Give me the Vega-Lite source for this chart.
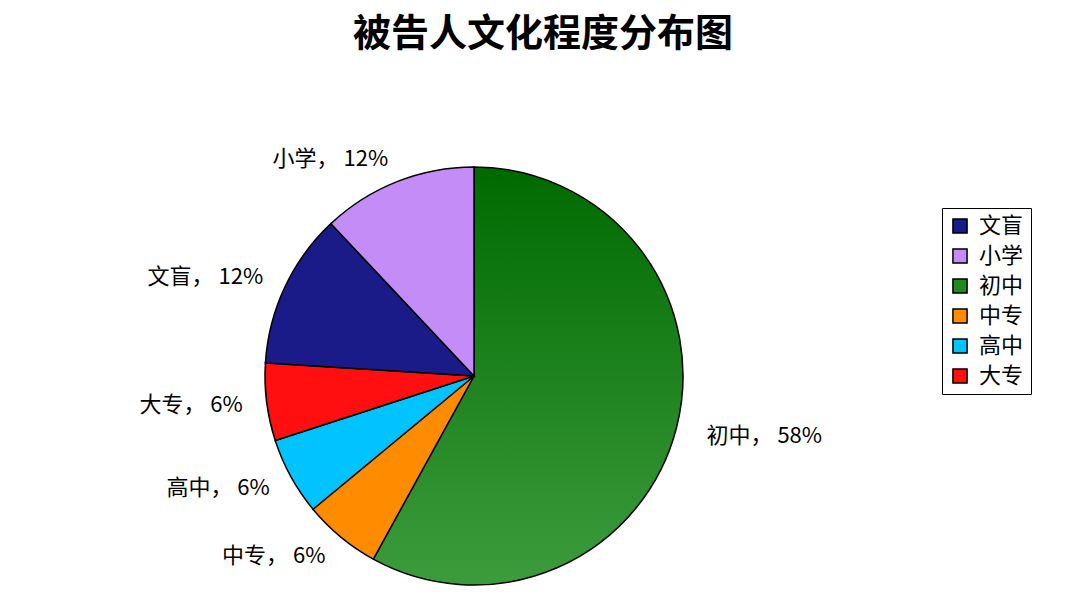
{
  "$schema": "https://vega.github.io/schema/vega-lite/v6.json",
  "autosize": {"type": "none"},
  "width": 948,
  "height": 448,
  "padding": {"left": 0, "top": 152, "right": 132, "bottom": 0},
  "background": "white",
  "config": {
    "font": "Noto Sans CJK SC",
    "view": {"stroke": null}
  },
  "title": {
    "text": "被告人文化程度分布图",
    "fontSize": 38,
    "fontWeight": "bold",
    "color": "black",
    "anchor": "middle",
    "dx": 69,
    "offset": 88
  },
  "data": {
    "values": [
      {"edu": "初中", "pct": 58, "seq": 1, "label": "初中，  58%"},
      {"edu": "中专", "pct": 6, "seq": 2, "label": "中专，  6%"},
      {"edu": "高中", "pct": 6, "seq": 3, "label": "高中，  6%"},
      {"edu": "大专", "pct": 6, "seq": 4, "label": "大专，  6%"},
      {"edu": "文盲", "pct": 12, "seq": 5, "label": "文盲，  12%"},
      {"edu": "小学", "pct": 12, "seq": 6, "label": "小学，  12%"}
    ]
  },
  "encoding": {
    "theta": {"field": "pct", "type": "quantitative", "stack": true},
    "order": {"field": "seq", "type": "ordinal"}
  },
  "layer": [
    {
      "mark": {"type": "arc", "outerRadius": 209, "stroke": "black", "strokeWidth": 1.5},
      "encoding": {
        "color": {
          "condition": {
            "test": "datum.edu === '初中'",
            "value": {
              "gradient": "linear",
              "x1": 0, "y1": 0, "x2": 0, "y2": 1,
              "stops": [
                {"offset": 0, "color": "#006a00"},
                {"offset": 1, "color": "#3c9c3c"}
              ]
            }
          },
          "field": "edu",
          "type": "nominal",
          "scale": {
            "domain": ["文盲", "小学", "初中", "中专", "高中", "大专"],
            "range": ["#1a1a88", "#c48cf6", "#1f8a1f", "#ff8c00", "#00c3ff", "#ff0f0f"]
          },
          "legend": {
            "title": null,
            "orient": "none",
            "legendX": 942,
            "legendY": 56,
            "strokeColor": "black",
            "padding": 7,
            "symbolType": "square",
            "symbolSize": 200,
            "symbolStrokeColor": "black",
            "symbolStrokeWidth": 1.5,
            "symbolOpacity": 1,
            "labelFontSize": 22,
            "labelColor": "black",
            "labelOffset": 8,
            "rowPadding": 8
          }
        }
      }
    },
    {
      "mark": {"type": "text", "radius": 240, "align": "left", "baseline": "middle", "fontSize": 22, "color": "black"},
      "encoding": {
        "text": {"field": "label"},
        "opacity": {"condition": {"test": "datum.edu === '初中'", "value": 1}, "value": 0}
      }
    },
    {
      "mark": {"type": "text", "radius": 233, "align": "right", "baseline": "middle", "fontSize": 22, "color": "black"},
      "encoding": {
        "text": {"field": "label"},
        "opacity": {"condition": {"test": "datum.edu !== '初中'", "value": 1}, "value": 0}
      }
    }
  ]
}
